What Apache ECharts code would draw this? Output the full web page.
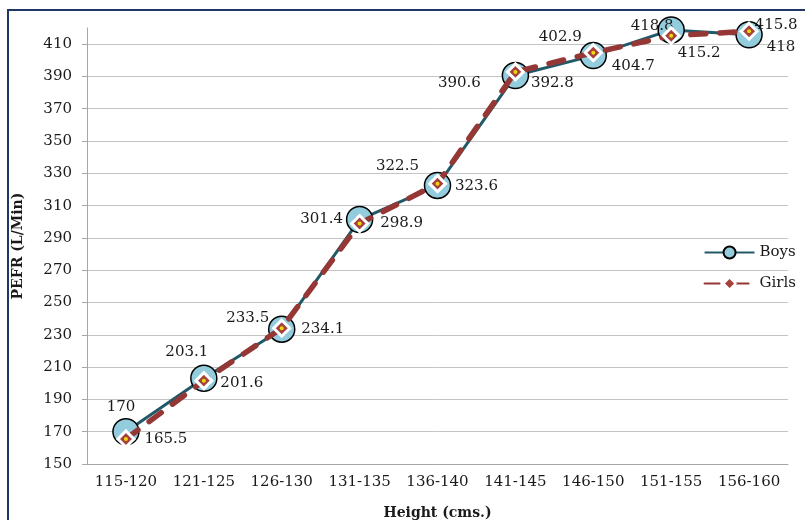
<!DOCTYPE html>
<html>
<head>
<meta charset="utf-8">
<script src="https://cdn.jsdelivr.net/npm/echarts@6/dist/echarts.min.js"></script>
<style>
  html, body { margin: 0; padding: 0; background: #ffffff; }
  #chart { width: 805px; height: 520px; }
</style>
</head>
<body>
<div id="chart"></div>
<script>
// Height bands (cm) and mean PEFR (L/min) per band
const heightBands = ['115-120', '121-125', '126-130', '131-135', '136-140', '141-145', '146-150', '151-155', '156-160'];
const boysPefr = [170, 203.1, 233.5, 301.4, 322.5, 390.6, 402.9, 418.8, 415.8];
const girlsPefr = [165.5, 201.6, 234.1, 298.9, 323.6, 392.8, 404.7, 415.2, 418];
const pefrTicks = [150, 170, 190, 210, 230, 250, 270, 290, 310, 330, 350, 370, 390, 410];

// Label nudges (px) so the two series' value labels do not collide
const boysLabelShift = [[-5, -25], [-17, -26], [-34, -11], [-38, 0], [-40, -19], [-56, 8], [-33, -19], [-19, -4], [27, -10]];
const girlsLabelShift = [[40, 0], [38, 2], [41, 1], [42, 0], [39, 2], [37, 11], [40, 13], [28, 17], [32, 16]];

const serif = '"DejaVu Serif", "Liberation Serif", serif';
// one colour per split line; the line at the axis maximum (420) stays invisible
const gridColors = pefrTicks.map(() => '#c4c4c4').concat(['rgba(0,0,0,0)']);

const chart = echarts.init(document.getElementById('chart'), null, { renderer: 'canvas' });

chart.setOption({
  animation: false,
  backgroundColor: '#ffffff',
  graphic: [{
    type: 'rect',
    z: 0,
    shape: { x: 8, y: 10, width: 900, height: 600 },
    style: { fill: 'none', stroke: '#1F3864', lineWidth: 2 }
  }],
  grid: { left: 87, right: 17, top: 28, bottom: 56, containLabel: false, outerBoundsMode: 'none' },
  legend: {
    data: ['Boys', 'Girls'],
    orient: 'vertical',
    right: 4,
    top: 240,
    itemWidth: 50,
    itemHeight: 15,
    itemGap: 16,
    textStyle: { fontFamily: serif, fontSize: 15, color: '#1a1a1a' }
  },
  xAxis: {
    type: 'category',
    data: heightBands,
    boundaryGap: true,
    axisLine: { lineStyle: { color: '#a6a6a6', width: 1 } },
    axisTick: { show: false },
    axisLabel: { fontFamily: serif, fontSize: 15, color: '#1a1a1a', margin: 11, interval: 0, hideOverlap: false },
    name: 'Height (cms.)',
    nameLocation: 'middle',
    nameGap: 42,
    nameTextStyle: { fontFamily: serif, fontSize: 14, fontWeight: 'bold', color: '#1a1a1a' }
  },
  yAxis: {
    type: 'value',
    min: 150,
    max: 420,
    interval: 20,
    axisLine: { show: true, lineStyle: { color: '#a6a6a6', width: 1 } },
    axisTick: { show: true, length: 5, customValues: pefrTicks, lineStyle: { color: '#a6a6a6' } },
    axisLabel: { fontFamily: serif, fontSize: 15, color: '#1a1a1a', margin: 15, customValues: pefrTicks },
    splitLine: { show: true, lineStyle: { color: gridColors, width: 1 } },
    name: 'PEFR (L/Min)',
    nameLocation: 'middle',
    nameGap: 62,
    nameRotate: 90,
    nameTextStyle: { fontFamily: serif, fontSize: 14, fontWeight: 'bold', color: '#1a1a1a' }
  },
  series: [
    {
      name: 'Boys',
      type: 'line',
      z: 3,
      data: boysPefr.map((v, i) => ({ value: v, label: { offset: boysLabelShift[i] } })),
      symbol: 'circle',
      symbolSize: 26,
      itemStyle: { color: '#93CDDD', borderColor: '#000000', borderWidth: 1.5 },
      lineStyle: { color: '#215968', width: 3 },
      label: {
        show: true,
        position: 'inside',
        fontFamily: serif,
        fontSize: 15,
        color: '#1a1a1a',
        formatter: p => String(p.value)
      }
    },
    {
      name: 'Girls',
      type: 'line',
      z: 4,
      data: girlsPefr.map((v, i) => ({ value: v, label: { offset: girlsLabelShift[i] } })),
      symbol: 'diamond',
      symbolSize: 16,
      itemStyle: { color: '#A6403B', borderColor: '#ffffff', borderWidth: 3 },
      lineStyle: { color: '#953735', width: 5.5, type: [15, 14], cap: 'round' },
      label: {
        show: true,
        position: 'inside',
        fontFamily: serif,
        fontSize: 15,
        color: '#1a1a1a',
        formatter: p => String(p.value)
      }
    },
    {
      name: 'GirlsCentre',
      type: 'scatter',
      z: 5,
      silent: true,
      data: girlsPefr,
      symbol: 'circle',
      symbolSize: 4,
      itemStyle: { color: '#FFFF00' }
    }
  ]
});
</script>
</body>
</html>
